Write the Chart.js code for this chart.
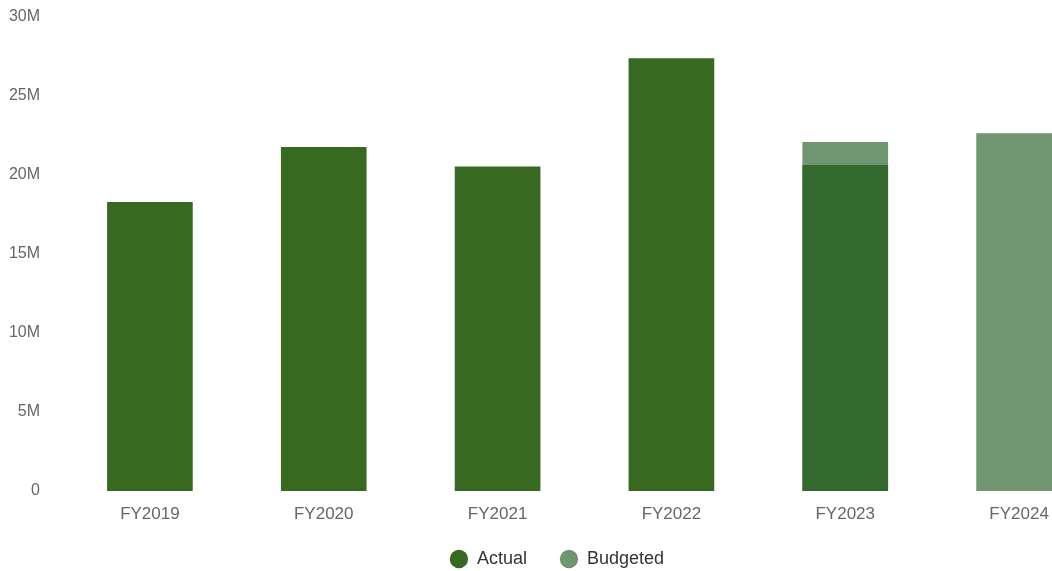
<!DOCTYPE html>
<html>
<head>
<meta charset="utf-8">
<script src="https://cdn.jsdelivr.net/npm/chart.js@4/dist/chart.umd.min.js"></script>
<style>
  html, body { margin: 0; padding: 0; background: #fff; overflow: hidden; }
  #wrap { width: 1052px; height: 571px; overflow: hidden; }
  #revenue_plot { display: block; margin-top: -8px; }
</style>
</head>
<body>
<div id="wrap"><canvas id="revenue_plot" width="1120" height="590"></canvas></div>
<script>
// fiscal years and revenue figures (millions)
var years = ['FY2019', 'FY2020', 'FY2021', 'FY2022', 'FY2023', 'FY2024'];
var actual = [18.25, 21.73, 20.5, 27.35, 20.6, null];
var budgeted = [null, null, null, null, 22.05, 22.6];

var font = "'Liberation Sans', Arial, Helvetica, sans-serif";

const ctx = document.getElementById('revenue_plot');

const data = {
    labels: years,
    datasets: [
        {
            label: 'Actual',
            data: actual.map(function(v) { return v === null ? null : v * 1e6; }),
            backgroundColor: '#376a20',
            borderWidth: 0,
            order: 1
        },
        {
            label: 'Budgeted',
            data: budgeted.map(function(v) { return v === null ? null : v * 1e6; }),
            backgroundColor: 'rgba(51,105,52,0.7)',
            borderWidth: 0,
            order: 0   // drawn over the actual bars
        }
    ]
};

const config = {
    type: 'bar',
    data: data,
    options: {
        responsive: false,
        animation: false,
        barThickness: 85,
        layout: {
            padding: { left: 8, top: 0, right: 14, bottom: 4 }
        },
        plugins: {
            legend: {
                position: 'bottom',
                labels: {
                    usePointStyle: true,
                    pointStyle: 'circle',
                    boxWidth: 21,
                    boxHeight: 13,
                    padding: 33,
                    color: '#333',
                    font: { family: font, size: 18 },
                    sort: function(a, b) { return a.datasetIndex - b.datasetIndex; }
                }
            },
            tooltip: { enabled: false }
        },
        scales: {
            x: {
                stacked: true,
                grid: { display: false },
                border: { display: false },
                afterFit: function(scale) {
                    // tighter axis box so the legend sits closer; don't clip labels to it
                    scale.height = 26;
                    scale._computeLabelArea = function() { return undefined; };
                },
                ticks: {
                    color: '#666',
                    padding: 5,
                    font: { family: font, size: 17 }
                }
            },
            y: {
                stacked: false,
                min: 0,
                max: 30e6,
                grid: { display: false },
                border: { display: false },
                afterFit: function(scale) { scale.width = 55; },
                ticks: {
                    stepSize: 5e6,
                    color: '#666',
                    padding: 15,
                    font: { family: font, size: 16 },
                    callback: function(v) { return v === 0 ? '0' : (v / 1e6) + 'M'; }
                }
            }
        }
    }
};

new Chart(ctx, config);
</script>
</body>
</html>
